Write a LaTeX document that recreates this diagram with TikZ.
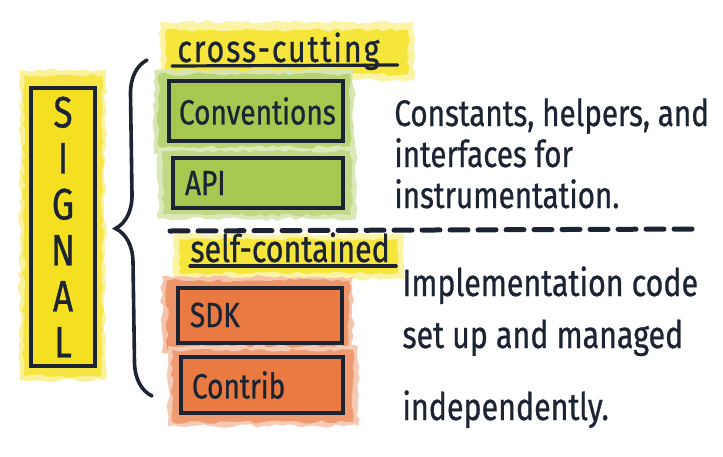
\documentclass[tikz,border=0pt]{standalone}
\usepackage{fontspec}
\newfontfamily\handfont[FakeStretch=0.8, FakeBold=0.7]{Fira Sans}
\usepackage{xcolor}
\definecolor{inkblue}{RGB}{28, 36, 52}
\definecolor{signalyellow}{RGB}{244, 224, 32}
\definecolor{hiliteyellow}{RGB}{246, 230, 60}
\definecolor{apigreen}{RGB}{166, 200, 80}
\definecolor{sdkorange}{RGB}{232, 122, 66}
\usepackage{tikz}
\usetikzlibrary{decorations.pathmorphing, decorations.pathreplacing, positioning, calc, backgrounds}

\begin{document}
\begin{tikzpicture}[x=0.5pt, y=-0.5pt,
      blotch/.style={draw=none, decorate, decoration={random steps, segment length=3pt, amplitude=0.9pt}},
      tagbox/.style={rectangle, draw=inkblue, line width=2pt, text=inkblue, font=\handfont\fontsize{17.5}{20}\selectfont, align=left, inner xsep=5pt},
      lbl/.style={text=inkblue, font=\handfont\fontsize{19}{21}\selectfont, inner sep=0pt},
      note/.style={text=inkblue, align=left, inner sep=0pt},
      inkline/.style={draw=inkblue, line width=1.6pt, line cap=round}
  ]
    \pgfmathsetseed{7}
    \useasboundingbox (0,0) rectangle (723,456);

    % Signal column
    \node[draw=inkblue, line width=2.2pt, fill=signalyellow, minimum width=32pt, minimum height=139pt,
          align=center, text=inkblue, font=\handfont\fontsize{22}{23}\selectfont] (sig) at (63,227) {S\\I\\G\\N\\A\\L};

    % Brace
    \coordinate (brtop) at (147,60);
    \coordinate (brbot) at (152,396);
    \draw[inkline, line width=1.8pt, decorate, decoration={brace, amplitude=17pt}] (brbot) -- (brtop);

    % Cross-cutting group
    \node[lbl, anchor=base west] (cross) at (177,62) {\addfontfeature{LetterSpace=5}cross-cutting};
    \node[tagbox, fill=apigreen, text width=77pt, minimum height=30pt] (conv) at (256,111) {Conventions};
    \node[tagbox, fill=apigreen, text width=73pt, inner xsep=6pt, minimum height=25pt] (api) at (258,183) {API};

    % Separator
    \coordinate (sepl) at (170,231);
    \coordinate (sepr) at (697,229);
    \draw[inkblue, line width=2.5pt, dash pattern=on 9pt off 5pt, line cap=round] (sepl) -- (sepr);

    % Self-contained group
    \node[lbl, anchor=base west] (self) at (190,262) {self-contained};
    \node[tagbox, fill=sdkorange, text width=70pt, inner xsep=6pt, minimum height=27.5pt] (sdk) at (260,315) {SDK};
    \node[tagbox, fill=sdkorange, text width=70pt, inner xsep=5.5pt, minimum height=28pt] (contrib) at (262,385) {Contrib};

    % Underlines
    \draw[inkline] ($(cross.base west)+(-5,4)$) -- ($(cross.base east)+(18,3)$);
    \draw[inkline] ($(self.base west)+(0,4)$) -- ($(self.base east)+(6,4)$);

    % Notes (anchored on the last line)
    \node[note, anchor=base west, font=\handfont\fontsize{18.5}{20.5}\selectfont] (notecc) at (394,208)
      {Constants, helpers, and\\interfaces for\\instrumentation.};
    \node[note, anchor=base west, font=\handfont\fontsize{19}{26}\selectfont] (notesc) at (402,420)
      {Implementation code\\set up and managed\\[10pt]independently.};

    % Watercolour washes
    \begin{scope}[on background layer]
      \fill[signalyellow!45, blotch] ($(sig.north west)+(-9,-16)$) rectangle ($(sig.south east)+(8,12)$);
      \fill[signalyellow!85, blotch] ($(sig.north west)+(-5,-10)$) rectangle ($(sig.south east)+(5,8)$);
      \fill[hiliteyellow!45, blotch] (160,22) rectangle (414,80);
      \fill[hiliteyellow, blotch] (166,30) rectangle (408,74);
      \fill[hiliteyellow!45, blotch] (174,234) rectangle (404,279);
      \fill[hiliteyellow, blotch] (179,239) rectangle (398,273);
      \fill[apigreen!45, blotch] ($(conv.north west)+(-13,-9)$) rectangle ($(conv.south east)+(9,11)$);
      \fill[apigreen!80, blotch] ($(conv.north west)+(-8,-5)$) rectangle ($(conv.south east)+(5,7)$);
      \fill[apigreen!40, blotch] ($(api.north west)+(-13,-9)$) rectangle ($(api.south east)+(11,9)$);
      \fill[apigreen!70, blotch] ($(api.north west)+(-8,-5)$) rectangle ($(api.south east)+(6,5)$);
      \fill[sdkorange!45, blotch] ($(sdk.north west)+(-14,-9)$) rectangle ($(sdk.south east)+(9,9)$);
      \fill[sdkorange!80, blotch] ($(sdk.north west)+(-9,-5)$) rectangle ($(sdk.south east)+(5,5)$);
      \fill[sdkorange!40, blotch] ($(contrib.north west)+(-11,-9)$) rectangle ($(contrib.south east)+(13,11)$);
      \fill[sdkorange!75, blotch] ($(contrib.north west)+(-7,-5)$) rectangle ($(contrib.south east)+(8,7)$);
    \end{scope}
  \end{tikzpicture}
\end{document}
